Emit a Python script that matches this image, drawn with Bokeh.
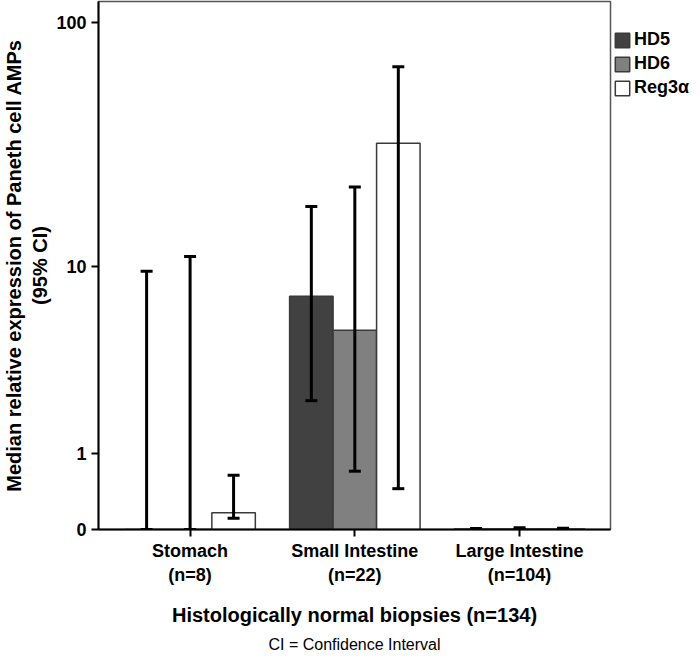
import numpy as np
from bokeh.plotting import figure
from bokeh.models import (ColumnDataSource, Range1d, FixedTicker, Whisker, TeeHead,
                          Legend, LegendItem, Title)
from bokeh.embed import file_html
from bokeh.resources import INLINE

# ---- data ----
categories = ["Stomach\n(n=8)", "Small Intestine\n(n=22)", "Large Intestine\n(n=104)"]
series = ["HD5", "HD6", "Reg3α"]
hd5_median = [0.0, 7.36, 0.004]
hd5_lower = [0.0, 2.23, 0.0]
hd5_upper = [9.5, 17.9, 0.010]
hd6_median = [0.0, 5.13, 0.005]
hd6_lower = [0.0, 0.70, 0.0]
hd6_upper = [11.0, 21.6, 0.015]
reg_median = [0.164, 32.6, 0.005]
reg_lower = [0.108, 0.45, 0.0]
reg_upper = [0.64, 66.4, 0.012]
y_tick_values = [0, 1, 10, 100]
colors = ["#414141", "#808080", "#ffffff"]

def tr(v):
    # SPSS-style log scale that includes zero: log10(value + 1)
    return np.log10(np.asarray(v, dtype=float) + 1.0)

FONT = "Liberation Sans"

p = figure(frame_width=512, frame_height=528, output_backend="svg", toolbar_location=None,
           x_range=Range1d(-0.556, 2.552), y_range=Range1d(0, 2.087),
           min_border_left=92, min_border_top=1, min_border_bottom=100,
           min_border_right=78, background_fill_color="white")
p.grid.visible = False
p.outline_line_color = "#555555"
p.outline_line_width = 1.5

width = 0.264
offsets = [-width, 0.0, width]
meds = [hd5_median, hd6_median, reg_median]
lows = [hd5_lower, hd6_lower, reg_lower]
ups = [hd5_upper, hd6_upper, reg_upper]

bar_renderers = []
for k in range(3):
    xs = np.arange(len(categories)) + offsets[k]
    src = ColumnDataSource(dict(x=xs, top=tr(meds[k]), lo=tr(lows[k]), hi=tr(ups[k])))
    r = p.vbar(x="x", top="top", bottom=0, width=width, source=src,
               fill_color=colors[k], line_color="#3a3a3a", line_width=1.5)
    bar_renderers.append(r)
    w = Whisker(source=src, base="x", upper="hi", lower="lo", dimension="height",
                line_color="black", line_width=3, level="overlay",
                upper_head=TeeHead(size=12, line_width=3, line_color="black"),
                lower_head=TeeHead(size=12, line_width=3, line_color="black"))
    p.add_layout(w)

# axes
p.yaxis.ticker = FixedTicker(ticks=list(tr(y_tick_values)))
p.yaxis.major_label_overrides = {float(t): str(v) for t, v in zip(tr(y_tick_values), y_tick_values)}
p.yaxis.minor_tick_line_color = None
p.xaxis.ticker = FixedTicker(ticks=[0, 1, 2])
p.xaxis.major_label_overrides = {i: c for i, c in enumerate(categories)}
p.xaxis.minor_tick_line_color = None
for ax in (p.xaxis, p.yaxis):
    ax.axis_line_color = "black"
    ax.axis_line_width = 2
    ax.major_tick_line_color = "black"
    ax.major_tick_line_width = 2
    ax.major_tick_out = 7
    ax.major_tick_in = 0
    ax.major_label_text_font = FONT
    ax.major_label_text_font_style = "bold"
    ax.axis_label_text_font = FONT
    ax.axis_label_text_font_style = "bold"
    ax.axis_label_text_color = "black"
    ax.major_label_text_color = "black"

p.yaxis.major_label_text_font_size = "18px"
p.yaxis.major_label_standoff = 5
p.yaxis.axis_label = "Median relative expression of Paneth cell AMPs\n(95% CI)"
p.yaxis.axis_label_text_font_size = "20px"
p.yaxis.axis_label_standoff = 2

p.xaxis.major_label_text_font_size = "18px"
p.xaxis.major_label_standoff = 4
p.xaxis.axis_label = "Histologically normal biopsies (n=134)"
p.xaxis.axis_label_text_font_size = "20px"
p.xaxis.axis_label_standoff = 16

ci = Title(text="CI = Confidence Interval", align="center", text_font=FONT,
           text_font_size="16px", text_font_style="normal", text_color="black",
           standoff=10)
p.add_layout(ci, "below")

legend = Legend(items=[LegendItem(label=s, renderers=[r]) for s, r in zip(series, bar_renderers)],
                location="top_left", orientation="vertical",
                title=" ", title_text_font_size="10px", title_standoff=14,
                label_text_font=FONT, label_text_font_style="bold",
                label_text_font_size="18px", label_text_color="black",
                glyph_width=18, glyph_height=18, label_height=18, spacing=3,
                label_standoff=3, padding=0, margin=3,
                border_line_color=None, background_fill_alpha=0)
p.add_layout(legend, "right")

open("out.html", "w").write(file_html(p, INLINE))
